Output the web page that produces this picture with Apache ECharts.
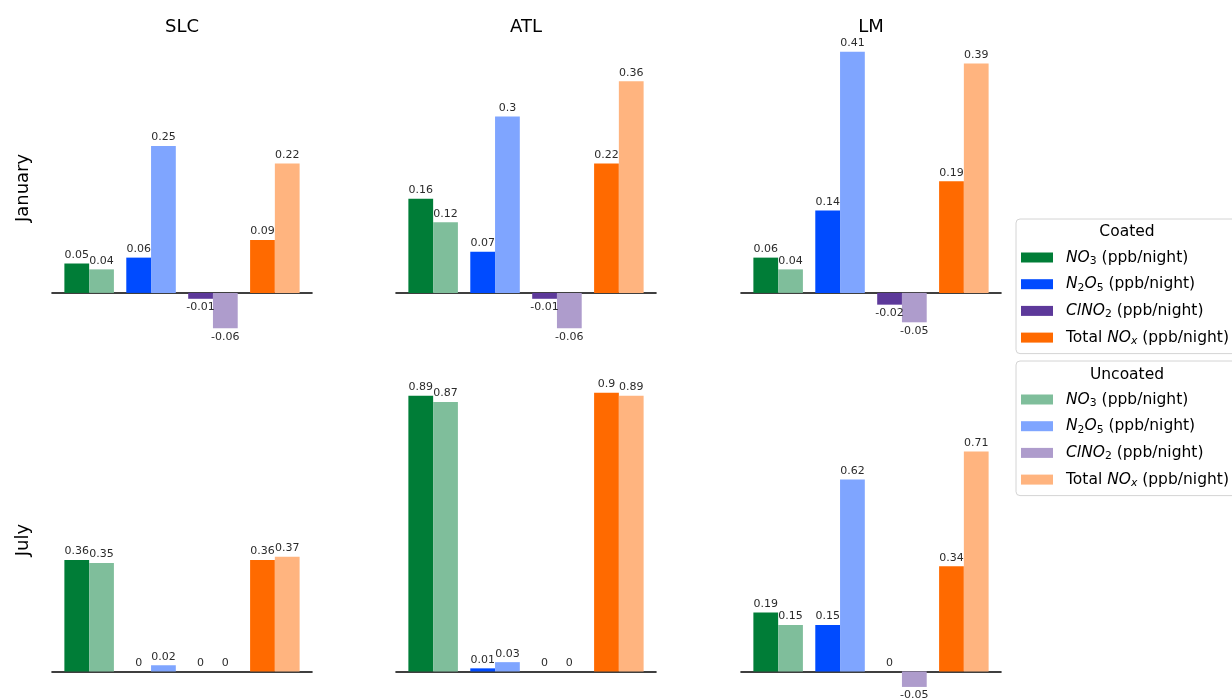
<!DOCTYPE html>
<html>
<head>
<meta charset="utf-8">
<script src="https://cdn.jsdelivr.net/npm/echarts@6/dist/echarts.min.js"></script>
<style>
  html, body { margin: 0; padding: 0; background: #ffffff; }
  #chart { width: 1232px; height: 700px; }
</style>
</head>
<body>
<div id="chart"></div>
<script>
// Sites (columns) and months (rows)
const sites = ['SLC', 'ATL', 'LM'];
const months = ['January', 'July'];
// Species, in bar-group order
const species = ['NO3', 'N2O5', 'ClNO2', 'NOx'];

// Nightly change per species (ppb/night): NO3, N2O5, ClNO2, Total NOx
const slcJanCoated   = [0.05, 0.06, -0.01, 0.09];
const slcJanUncoated = [0.04, 0.25, -0.06, 0.22];
const atlJanCoated   = [0.16, 0.07, -0.01, 0.22];
const atlJanUncoated = [0.12, 0.3, -0.06, 0.36];
const lmJanCoated    = [0.06, 0.14, -0.02, 0.19];
const lmJanUncoated  = [0.04, 0.41, -0.05, 0.39];

const slcJulCoated   = [0.36, 0, 0, 0.36];
const slcJulUncoated = [0.35, 0.02, 0, 0.37];
const atlJulCoated   = [0.89, 0.01, 0, 0.9];
const atlJulUncoated = [0.87, 0.03, 0, 0.89];
const lmJulCoated    = [0.19, 0.15, 0, 0.34];
const lmJulUncoated  = [0.15, 0.62, -0.05, 0.71];

// Panel order: row by row, left to right
const panels = [
  [slcJanCoated, slcJanUncoated], [atlJanCoated, atlJanUncoated], [lmJanCoated, lmJanUncoated],
  [slcJulCoated, slcJulUncoated], [atlJulCoated, atlJulUncoated], [lmJulCoated, lmJulUncoated]
];

// Colours: coated = full, uncoated = half tone
const coatedColors   = ['#007d37', '#004bff', '#5d399a', '#ff6a00'];
const uncoatedColors = ['#7fbe9b', '#7fa5ff', '#ae9ccc', '#ffb47f'];

const coatedNames   = species.map(s => 'Coated ' + s);
const uncoatedNames = species.map(s => 'Uncoated ' + s);

// Layout of the 2x3 panel grid
const colLeft = [52, 396, 741];
const colWidth = 260;
const rowTop = [38, 378];
const rowHeight = [304, 322];
// Shared y range within each row
const rowYMin = [-0.0835, -0.0922];
const rowYMax = [0.4335, 0.9475];

const FONT = '"DejaVu Sans", "Liberation Sans", sans-serif';

const grids = [], xAxes = [], yAxes = [], series = [];

panels.forEach((pair, p) => {
  const row = Math.floor(p / 3), col = p % 3;
  grids.push({ left: colLeft[col], top: rowTop[row], width: colWidth, height: rowHeight[row] });
  xAxes.push({
    type: 'value', gridIndex: p, min: -0.6, max: 3.6,
    axisLine: { show: true, onZero: true, lineStyle: { color: '#000', width: 1.6 } },
    axisTick: { show: false }, axisLabel: { show: false }, splitLine: { show: false }
  });
  yAxes.push({
    type: 'value', gridIndex: p, min: rowYMin[row], max: rowYMax[row],
    axisLine: { show: false }, axisTick: { show: false }, axisLabel: { show: false }, splitLine: { show: false }
  });
  [[pair[0], coatedNames, coatedColors, 'c'], [pair[1], uncoatedNames, uncoatedColors, 'u']]
    .forEach(([vals, names, colors, tag]) => {
      species.forEach((sp, s) => {
        series.push({
          type: 'bar',
          name: names[s],
          xAxisIndex: p, yAxisIndex: p,
          stack: tag + p,
          barWidth: '40%', barGap: '0%',
          itemStyle: { color: colors[s] },
          label: {
            show: true, distance: 3,
            fontFamily: FONT, fontSize: 11, color: '#2b2b2b',
            formatter: prm => String(prm.value[1])
          },
          emphasis: { disabled: true },
          data: vals.map((v, i) => i === s
            ? { value: [i, v], label: { position: v < 0 ? 'bottom' : 'top' } }
            : [i, '-'])
        });
      });
    });
});

// Legend text with italic formulas and subscripts
const legendRich = {
  g: { width: 8, fontSize: 15.5, lineHeight: 18 },
  t: { fontFamily: FONT, fontSize: 15.5, lineHeight: 18, color: '#000' },
  i: { fontFamily: FONT, fontSize: 15.5, lineHeight: 18, fontStyle: 'italic', color: '#000' },
  s: { fontFamily: FONT, fontSize: 10.8, lineHeight: 10, verticalAlign: 'bottom', color: '#000' },
  si: { fontFamily: FONT, fontSize: 10.8, lineHeight: 10, verticalAlign: 'bottom', fontStyle: 'italic', color: '#000' }
};
const legendLabels = {
  NO3: '{g| }{i|NO}{s|3}{t| (ppb/night)}',
  N2O5: '{g| }{i|N}{s|2}{i|O}{s|5}{t| (ppb/night)}',
  ClNO2: '{g| }{i|ClNO}{s|2}{t| (ppb/night)}',
  NOx: '{g| }{t|Total }{i|NO}{si|x}{t| (ppb/night)}'
};
function legendFormatter(name) {
  return legendLabels[name.split(' ')[1]];
}
function makeLegend(names, top) {
  return {
    orient: 'vertical', left: 1016, top: top,
    data: names,
    icon: 'rect', itemWidth: 32, itemHeight: 10, itemGap: 9.7,
    padding: [30.5, 10, 7, 5],
    borderColor: '#d4d4d4', borderWidth: 1, borderRadius: 4,
    backgroundColor: '#fff',
    formatter: legendFormatter,
    textStyle: { fontFamily: FONT, fontSize: 15.5, color: '#000', rich: legendRich }
  };
}

const titleFont = '18px ' + FONT;
const graphic = [];
sites.forEach((s, c) => {
  graphic.push({ type: 'text', x: colLeft[c] + colWidth / 2, y: 27,
    style: { text: s, font: titleFont, fill: '#000', align: 'center', verticalAlign: 'middle' } });
});
months.forEach((m, r) => {
  graphic.push({ type: 'text', x: 23, y: rowTop[r] + 150 + r * 12, rotation: Math.PI / 2,
    style: { text: m, font: titleFont, fill: '#000', align: 'center', verticalAlign: 'middle' } });
});
graphic.push({ type: 'text', x: 1127, y: 232, z: 100,
  style: { text: 'Coated', font: '15.5px ' + FONT, fill: '#000', align: 'center', verticalAlign: 'middle' } });
graphic.push({ type: 'text', x: 1127, y: 375, z: 100,
  style: { text: 'Uncoated', font: '15.5px ' + FONT, fill: '#000', align: 'center', verticalAlign: 'middle' } });

const chart = echarts.init(document.getElementById('chart'), null, { renderer: 'canvas' });
chart.setOption({
  animation: false,
  backgroundColor: '#ffffff',
  grid: grids,
  xAxis: xAxes,
  yAxis: yAxes,
  legend: [makeLegend(coatedNames, 219), makeLegend(uncoatedNames, 361)],
  graphic: graphic,
  series: series
});
</script>
</body>
</html>
